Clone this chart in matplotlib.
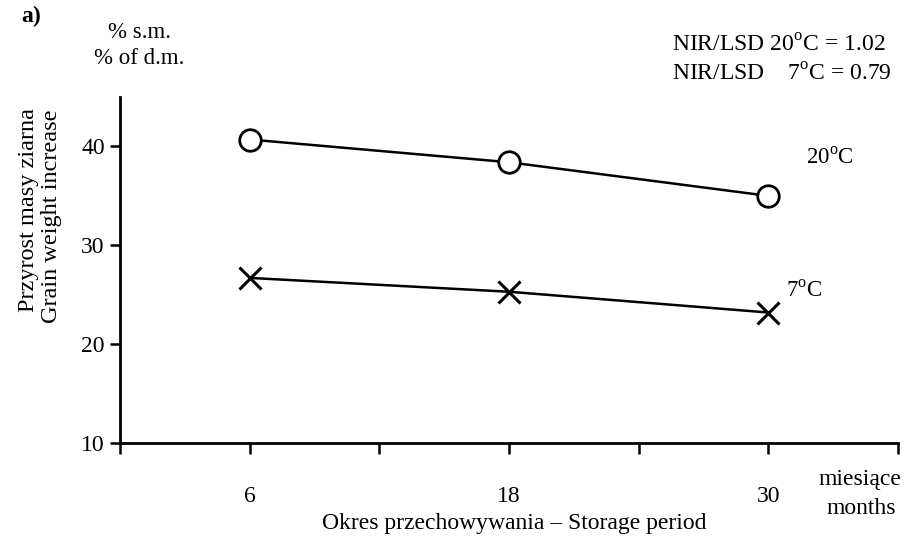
import matplotlib
matplotlib.use("Agg")
import matplotlib.pyplot as plt

months = [6, 18, 30]
t20 = [40.7, 38.4, 35.0]
t7 = [26.7, 25.3, 23.2]
xticks = [0, 6, 12, 18, 24, 30, 36]
xticklabels = ["", "6", "", "18", "", "30", ""]
yticks = [10, 20, 30, 40]

plt.rcParams['font.family'] = ['Liberation Serif', 'DejaVu Serif']
plt.rcParams['mathtext.fontset'] = 'custom'
plt.rcParams['mathtext.rm'] = 'Liberation Serif'

W, H = 908, 546
fig = plt.figure(figsize=(W / 100, H / 100), dpi=100)
ax = fig.add_axes([120 / W, (H - 443) / H, (898 - 120) / W, (443 - 97) / H])

ax.plot(months, t20, color='black', lw=1.8, marker='o', ms=15.5, mfc='white',
        mec='black', mew=2.0, zorder=3)
ax.plot(months, t7, color='black', lw=1.8, marker='x', ms=16, mec='black',
        mew=2.2, zorder=3)

ax.set_xlim(0, 36)
ax.set_ylim(10, 45)
for s in ['top', 'right']:
    ax.spines[s].set_visible(False)
for s in ['left', 'bottom']:
    ax.spines[s].set_linewidth(2.0)
ax.set_xticks(xticks)
ax.set_xticklabels(xticklabels)
ax.set_yticks(yticks)
ax.tick_params(axis='x', direction='out', length=8, width=1.8, labelsize=17, pad=23)
ax.tick_params(axis='y', direction='out', length=7, width=1.8, labelsize=17, pad=4)

fig.text(514 / W, 1 - 523 / H, "Okres przechowywania – Storage period",
         ha='center', va='center', fontsize=17)

fig.text(29 / W, 1 - 210 / H, "Przyrost masy ziarna", rotation=90,
         ha='center', va='center', fontsize=17.5)
fig.text(52 / W, 1 - 216 / H, "Grain weight increase", rotation=90,
         ha='center', va='center', fontsize=17.5)

fig.text(21 / W, 1 - 16 / H, "a)", ha='left', va='center', fontsize=17,
         fontweight='bold')
fig.text(140 / W, 1 - 33 / H, "% s.m.", ha='center', va='center', fontsize=16.5)
fig.text(139 / W, 1 - 58 / H, "% of d.m.", ha='center', va='center', fontsize=16.5)

fig.text(672 / W, 1 - 46 / H, "NIR/LSD 20$^{\\mathrm{o}}$C = 1.02", ha='left',
         va='center', fontsize=17)
fig.text(672 / W, 1 - 75 / H, "NIR/LSD    7$^{\\mathrm{o}}$C = 0.79", ha='left',
         va='center', fontsize=17)

fig.text(830 / W, 1 - 158 / H, "20$^{\\mathrm{o}}$C", ha='center', va='center',
         fontsize=16.5)
fig.text(804 / W, 1 - 291 / H, "7$^{\\mathrm{o}}$C", ha='center', va='center',
         fontsize=16.5)

fig.text(860 / W, 1 - 479 / H, "miesiące", ha='center', va='center', fontsize=17)
fig.text(861 / W, 1 - 508 / H, "months", ha='center', va='center', fontsize=17)

fig.savefig("out.png", dpi=100, facecolor='white')
